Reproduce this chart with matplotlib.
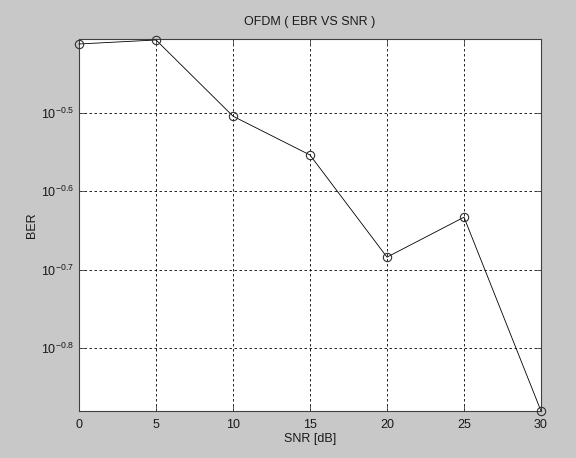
import numpy as np
import matplotlib
matplotlib.use("Agg")
import matplotlib.pyplot as plt
from matplotlib.ticker import FixedLocator, NullLocator

plt.rcParams['font.family'] = ['Liberation Sans', 'DejaVu Sans']
plt.rcParams['mathtext.default'] = 'regular'
plt.rcParams['axes.unicode_minus'] = False

snr = [0, 5, 10, 15, 20, 25, 30]
ber = [0.3874, 0.3920, 0.3133, 0.2795, 0.2070, 0.2328, 0.1317]
ytick_exp = [-0.8, -0.7, -0.6, -0.5]
ytick_labels = ["$10^{-0.8}$", "$10^{-0.7}$", "$10^{-0.6}$", "$10^{-0.5}$"]

fig = plt.figure(figsize=(5.76, 4.58), dpi=100, facecolor="#c8c8c8")
ax = fig.add_axes([0.1372, 0.1026, 0.802, 0.8122])
ax.set_facecolor("white")

ax.semilogy(snr, ber, color="black", linewidth=0.6, marker="o",
            markersize=6, markerfacecolor="none", markeredgecolor="#303030",
            markeredgewidth=0.8, clip_on=False, zorder=3)

ax.set_xlim(0, 30)
ax.set_ylim(10 ** -0.8805, 10 ** -0.4055)
ax.set_xticks(snr)
ax.yaxis.set_major_locator(FixedLocator([10 ** e for e in ytick_exp]))
ax.yaxis.set_minor_locator(NullLocator())
ax.set_yticklabels(ytick_labels)

ax.grid(True, color="black", linestyle=(0, (3, 3)), linewidth=0.6)
ax.tick_params(direction="in", length=4, width=0.6, colors="#404040",
               labelcolor="#1a1a1a", labelsize=9, top=True, right=True)
ax.tick_params(axis="x", pad=6)
for s in ax.spines.values():
    s.set_color("#404040")
    s.set_linewidth(0.8)

ax.set_title("OFDM ( EBR VS SNR )", fontsize=9, color="#1a1a1a", pad=10)
ax.set_xlabel("SNR [dB]", fontsize=9, color="#1a1a1a", labelpad=1)
ax.set_ylabel("BER", fontsize=9, color="#1a1a1a", labelpad=2)

fig.savefig("out.png", dpi=100, facecolor=fig.get_facecolor())
